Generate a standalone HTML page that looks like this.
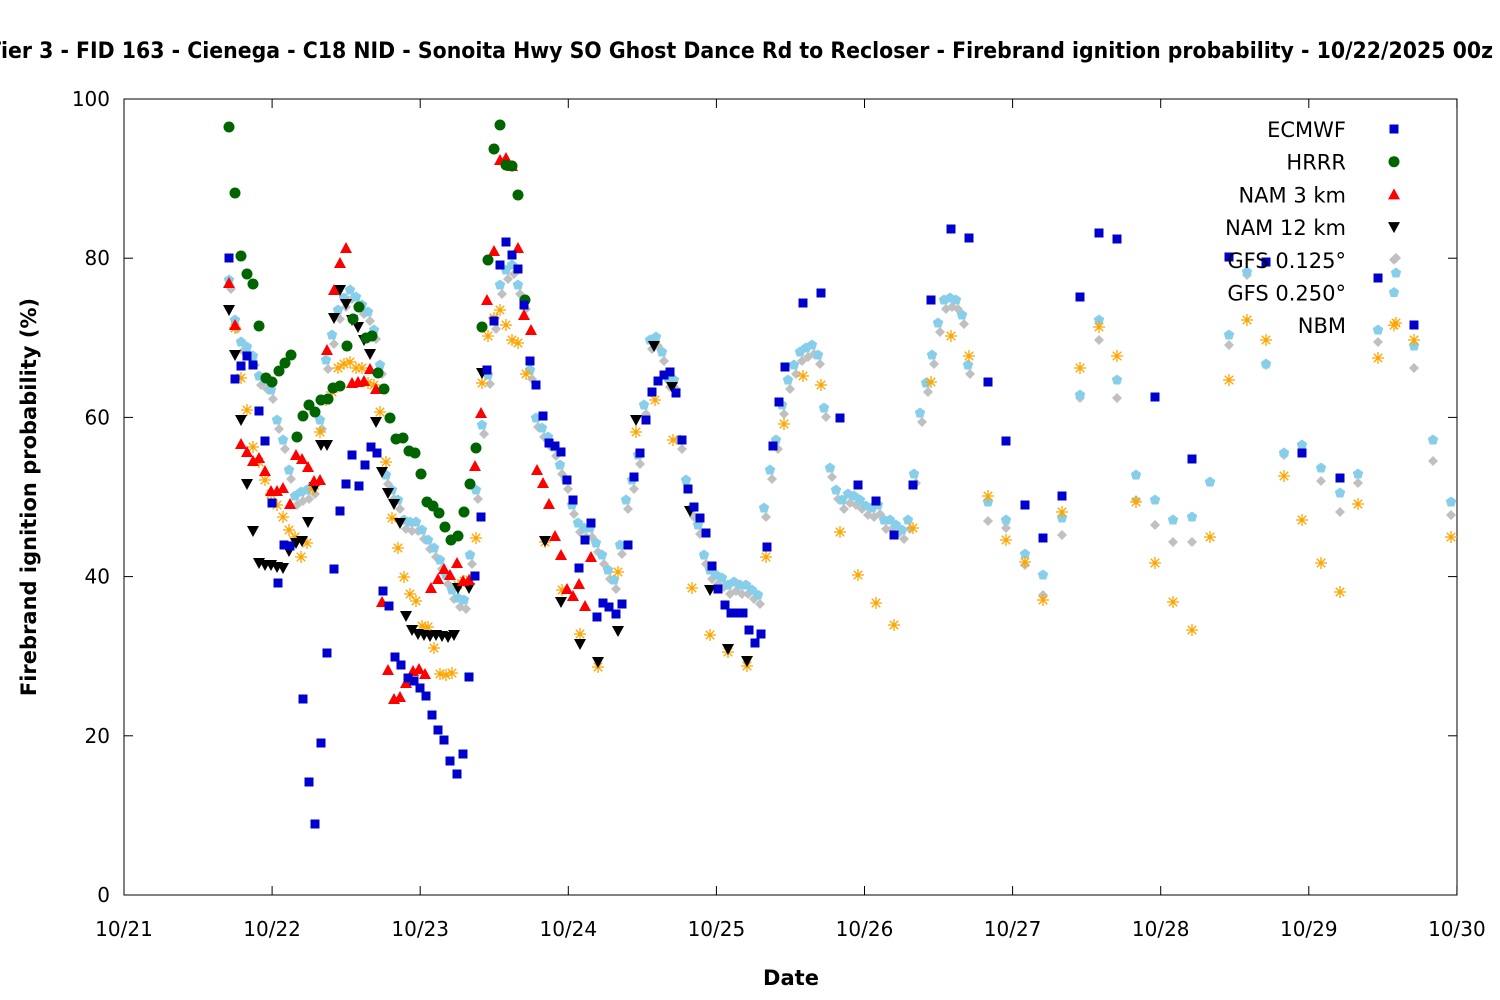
<!DOCTYPE html>
<html><head><meta charset="utf-8"><style>
html,body{margin:0;padding:0;background:#fff}
svg{display:block;font-family:"DejaVu Sans","Liberation Sans",sans-serif}
</style></head><body>
<svg id="s" width="1500" height="1000" xmlns="http://www.w3.org/2000/svg">
<rect width="1500" height="1000" fill="#fff"/>
<text x="-13" y="58" font-size="22" font-weight="bold" textLength="1506" lengthAdjust="spacingAndGlyphs">Tier 3 - FID 163 - Cienega - C18 NID - Sonoita Hwy SO Ghost Dance Rd to Recloser - Firebrand ignition probability - 10/22/2025 00z</text>
<rect x="124" y="99" width="1333" height="796" fill="none" stroke="#000" stroke-width="1"/>
<g id="ticks" stroke="#000" stroke-width="1"></g>
<g id="labels" font-size="20" fill="#000"></g>
<text x="791" y="985" font-size="21" font-weight="bold" text-anchor="middle">Date</text>
<text transform="translate(36,497) rotate(-90)" font-size="21" font-weight="bold" text-anchor="middle">Firebrand ignition probability (%)</text>
<g id="pts"></g>
<g id="leg" font-size="21" text-anchor="end"></g>
</svg>
<script>
var NS="http://www.w3.org/2000/svg";
function el(p,t,a,txt){var e=document.createElementNS(NS,t);for(var k in a)e.setAttribute(k,a[k]);if(txt)e.textContent=txt;p.appendChild(e);return e;}
var tk=document.getElementById('ticks'),lb=document.getElementById('labels');
for(var i=0;i<=5;i++){var y=895-i*159.2;el(tk,'line',{x1:124,y1:y,x2:133,y2:y});el(tk,'line',{x1:1457,y1:y,x2:1448,y2:y});
el(lb,'text',{x:110,y:y+7,'text-anchor':'end'},String(i*20));}
for(var d=0;d<=9;d++){var x=124+d*148.1;el(tk,'line',{x1:x,y1:895,x2:x,y2:886});el(tk,'line',{x1:x,y1:99,x2:x,y2:108});
el(lb,'text',{x:x,y:936,'text-anchor':'middle'},'10/'+(21+d));}
var P=document.getElementById('pts');
function mk(g,type,x,y){
 if(type=='sq')el(g,'rect',{x:x-4.5,y:y-4.5,width:9,height:9,fill:'#0000cc'});
 else if(type=='ci')el(g,'circle',{cx:x,cy:y,r:5.5,fill:'#006400'});
 else if(type=='up')el(g,'polygon',{points:(x-6)+','+(y+5)+' '+(x+6)+','+(y+5)+' '+x+','+(y-6),fill:'#ff0000'});
 else if(type=='dn')el(g,'polygon',{points:(x-6)+','+(y-5)+' '+(x+6)+','+(y-5)+' '+x+','+(y+6),fill:'#000'});
 else if(type=='di')el(g,'polygon',{points:x+','+(y-5)+' '+(x+5)+','+y+' '+x+','+(y+5)+' '+(x-5)+','+y,fill:'#c0c0c0'});
 else if(type=='pe'){var s='';for(var k=0;k<5;k++){var a=-Math.PI/2+k*2*Math.PI/5;s+=(x+5.5*Math.cos(a))+','+(y+5.5*Math.sin(a))+' ';}el(g,'polygon',{points:s,fill:'#87ceeb'});}
 else if(type=='st'){var s2='';for(var k=0;k<4;k++){var a=k*Math.PI/4;var c=Math.cos(a)*6,sn=Math.sin(a)*6;s2+='M'+(x-c)+','+(y-sn)+'L'+(x+c)+','+(y+sn);}el(g,'path',{d:s2,stroke:'#ffa500','stroke-width':1.3,fill:'none'});}
}
function series(type,arr){for(var i=0;i<arr.length;i+=2)mk(P,type,arr[i],arr[i+1]);}
var sky=[229,280,235,320,241,342,247,347,253,356,259,376,265,380,271,390,277,420,283,440,289,470,295,496,301,492,307,490,313,485,320,420,326,360,332,335,338,310,344,298,350,290,356,297,362,305,368,312,374,330,380,365,386,475,392,490,398,500,404,520,410,522,416,522,422,530,428,540,434,548,440,560,446,575,452,590,458,598,464,600,470,555,476,490,482,425,488,375,494,320,500,285,506,270,512,265,518,285,524,300,530,370,536,418,542,428,548,437,554,447,560,465,566,480,572,505,578,523,584,528,590,528,596,543,602,555,608,570,614,580,620,545,626,500,632,480,638,455,644,405,650,340,656,337,662,352,668,378,674,380,680,440,686,480,692,508,698,525,704,555,710,570,716,575,722,578,728,585,734,582,740,585,746,585,752,590,758,595,764,508,770,470,776,440,782,405,788,380,794,365,800,352,806,348,812,345,818,355,824,408,830,468,836,490,842,500,848,494,854,496,860,500,866,506,872,508,878,505,884,520,890,520,896,525,902,530,908,520,914,474,920,413,926,383,932,355,938,323,944,300,950,298,956,300,962,315,968,365,988,502,1006,520,1025,554,1043,575,1062,518,1080,395,1099,320,1117,380,1136,475,1155,500,1173,520,1192,517,1210,482,1229,335,1247,272,1266,364,1284,453,1302,445,1321,468,1340,493,1358,474,1378,330,1396,273,1414,346,1433,440,1451,502];
var grey=[];for(var i=0;i<sky.length;i+=2){if(sky[i]<=968)grey.push(sky[i]+2,sky[i+1]+9);}
grey=grey.concat([988,521,1006,528,1025,565,1043,595,1062,535,1080,398,1099,340,1117,398,1136,500,1155,525,1173,542,1192,542,1210,482,1229,345,1247,275,1266,365,1284,455,1302,452,1321,481,1340,512,1358,483,1378,342,1396,258,1414,368,1433,461,1451,515]);
series('di',grey);
series('pe',sky);
series('st',[235,328,241,378,247,410,253,447,259,462,265,480,271,494,277,505,283,517,289,530,295,537,301,557,307,543,313,489,320,432,326,400,332,392,338,368,344,364,350,362,356,368,362,368,368,383,374,385,380,412,386,462,392,518,398,548,404,577,410,594,416,601,422,626,428,627,434,648,440,674,446,675,452,673,458,585,464,581,470,580,476,538,482,383,488,336,494,318,500,310,506,325,512,340,518,343,526,374,545,542,562,590,580,634,598,667,618,572,636,432,655,400,673,440,692,588,710,635,728,652,747,666,766,557,784,424,803,376,821,385,840,532,858,575,876,603,894,625,913,528,931,382,951,336,969,356,988,496,1006,540,1025,562,1043,600,1062,512,1080,368,1099,327,1117,356,1136,502,1155,563,1173,602,1192,630,1210,537,1229,380,1247,320,1266,340,1284,476,1302,520,1321,563,1340,592,1358,504,1378,358,1396,323,1414,340,1451,537]);
series('dn',[229,310,235,355,241,420,247,484,253,531,259,563,265,565,271,565,277,567,283,568,289,551,296,543,302,541,308,522,315,487,321,445,327,445,334,318,340,290,346,304,352,320,358,327,364,340,370,354,376,422,382,472,388,493,394,504,400,523,406,616,412,630,418,634,424,635,430,636,436,635,442,636,448,637,454,635,458,588,469,588,482,373,545,541,561,602,580,644,598,662,618,631,636,420,654,346,672,387,690,511,710,590,728,649,747,661]);
series('up',[229,283,235,325,241,444,247,452,253,461,259,458,265,471,271,491,277,491,283,488,290,504,296,455,302,459,308,467,314,481,320,480,327,350,334,290,340,263,346,248,352,383,358,382,364,381,370,369,376,389,382,602,388,670,394,699,400,697,406,683,413,671,419,669,425,674,431,588,438,579,444,569,450,575,457,563,463,581,469,580,475,466,481,413,487,300,494,251,500,160,506,158,512,166,518,248,524,315,531,330,537,470,543,483,549,504,555,536,561,555,567,589,573,596,579,584,585,606,591,557]);
series('ci',[229,127,235,193,241,256,247,274,253,284,259,326,266,378,272,382,279,371,285,363,291,355,297,437,303,416,309,405,315,412,321,400,328,399,333,388,340,386,347,346,353,319,359,307,366,338,372,336,378,373,384,389,390,418,396,439,403,438,409,451,415,453,421,474,427,502,433,506,439,513,445,527,451,540,458,536,464,512,470,484,476,448,482,327,488,260,494,149,500,125,506,165,512,166,518,195,525,300]);
series('sq',[229,258,235,379,241,366,247,356,253,365,259,411,265,441,272,503,278,583,284,545,290,546,303,699,309,782,315,824,321,743,327,653,334,569,340,511,346,484,352,455,359,486,365,465,371,447,377,453,383,591,389,606,395,657,401,665,408,678,414,681,420,688,426,696,432,715,438,730,444,740,450,761,457,774,463,754,469,677,475,576,481,517,487,370,494,321,500,265,506,242,512,255,518,269,524,305,530,361,536,385,543,416,549,443,555,446,561,452,567,480,573,500,579,568,585,540,591,523,597,617,603,603,609,607,616,614,622,604,628,545,634,477,640,453,646,420,652,392,658,381,664,375,670,372,676,393,682,440,688,489,694,507,700,518,706,533,712,566,718,589,725,605,731,613,737,613,743,613,749,630,755,643,761,634,767,547,773,446,779,402,785,367,803,303,821,293,840,418,858,485,876,501,894,535,913,485,931,300,951,229,969,238,988,382,1006,441,1025,505,1043,538,1062,496,1080,297,1099,233,1117,239,1155,397,1192,459,1229,257,1266,262,1302,453,1340,478,1378,278,1414,325]);
var L=document.getElementById('leg');
var names=['ECMWF','HRRR','NAM 3 km','NAM 12 km','GFS 0.125°','GFS 0.250°','NBM'],types=['sq','ci','up','dn','di','pe','st'];
for(var i=0;i<7;i++){var y=129+i*32.7;el(L,'text',{x:1346,y:y+8},names[i]);mk(L,types[i],1394,y);}
</script>
</body></html>
